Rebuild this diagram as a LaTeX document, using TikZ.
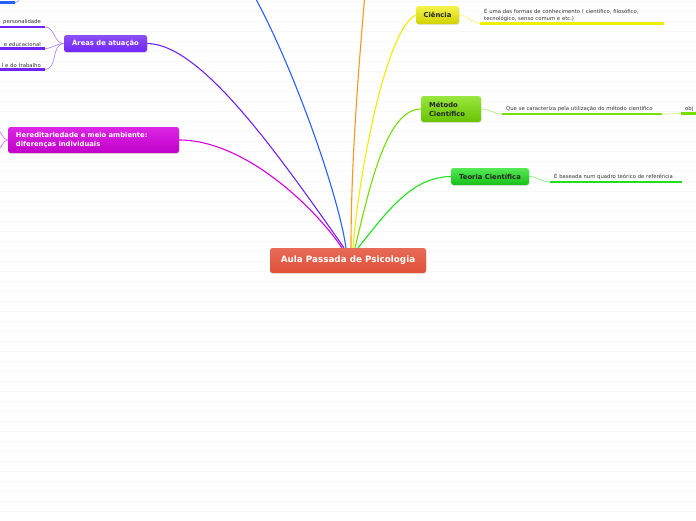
\documentclass[tikz,border=0pt]{standalone}
\usepackage{fontspec}
\setmainfont{DejaVu Sans}
\usetikzlibrary{positioning,shadows}
\definecolor{rootcolor}{RGB}{226,80,56}
\definecolor{areacolor}{RGB}{112,36,246}
\definecolor{herecolor}{RGB}{214,0,224}
\definecolor{cienciacolor}{RGB}{238,238,0}
\definecolor{metodocolor}{RGB}{118,222,0}
\definecolor{teoriacolor}{RGB}{28,226,28}
\definecolor{bluecolor}{RGB}{40,95,255}
\definecolor{orangecolor}{RGB}{255,150,30}
\definecolor{paperline}{RGB}{248,248,248}
\newcommand\rootfont{\fontsize{8.8}{10}\selectfont\bfseries}
\newcommand\topicfont{\fontsize{6.8}{9}\selectfont\bfseries}
\newcommand\notefont{\fontsize{5.3}{6.5}\selectfont}

\tikzset{
  topic/.style={rounded corners=2.5pt, inner sep=0pt, font=\topicfont, text=black!85,
    drop shadow={opacity=0.2, shadow xshift=0.6pt, shadow yshift=-0.9pt}},
  note/.style={font=\notefont, text=black!80, align=left, inner xsep=4pt,
    inner ysep=1.8pt, anchor=south west},
  branch/.style={line width=1.1pt},
  twig/.style={line width=0.7pt},
  underline/.style={line width=2.4pt}
}

\begin{document}
\begin{tikzpicture}[x=1pt,y=-1pt]
\useasboundingbox (0,0) rectangle (696,520);

% ruled paper
\foreach \y in {1,11,...,511}
  \draw[paperline, line width=0.8pt] (0,\y) -- (696,\y);

% central topic
\node[topic, top color=rootcolor!85!white, bottom color=rootcolor, text=white,
  font=\rootfont, minimum width=156pt, minimum height=25pt] (root) at (348,260.5)
  {Aula Passada de Psicologia};

% main topics
\node[topic, top color=areacolor!80!white, bottom color=areacolor, text=white,
  minimum width=83pt, minimum height=17pt] (areas) at (105.5,43.5) {Áreas de atuação};
\node[topic, top color=herecolor!85!white, bottom color=herecolor!90!black, text=white,
  align=left, text width=155pt, inner xsep=8pt, minimum height=26pt] (here) at (93.5,140)
  {Hereditariedade e meio ambiente:\\diferenças individuais};
\node[topic, top color=cienciacolor!70!white, bottom color=cienciacolor!88!black,
  minimum width=43pt, minimum height=18pt] (ciencia) at (437.5,15) {Ciência};
\node[topic, top color=metodocolor!75!white, bottom color=metodocolor!88!black,
  align=left, text width=44pt, inner xsep=8pt, minimum height=26pt] (metodo) at (451,109)
  {Método\\Científico};
\node[topic, top color=teoriacolor!75!white, bottom color=teoriacolor!85!black,
  minimum width=78pt, minimum height=17pt] (teoria) at (490,176.5) {Teoria Científica};

% branches leaving the page
\coordinate (bluetop) at (238,-30);
\coordinate (orangetop) at (367,-30);

% branches
\draw[branch, herecolor] ([xshift=-6pt]root.north) .. controls (315,208) and (245,140) .. (here.east);
\draw[branch, areacolor] ([xshift=-4pt]root.north) .. controls (274,148) and (200,44) .. (areas.east);
\draw[branch, bluecolor] ([xshift=-2pt]root.north) .. controls (336,180) and (275,20) .. (bluetop);
\draw[branch, orangecolor] ([xshift=3pt]root.north) .. controls (351,150) and (361,40) .. (orangetop);
\draw[branch, cienciacolor] ([xshift=5pt]root.north) .. controls (358,180) and (385,30) .. (ciencia.west);
\draw[branch, metodocolor] ([xshift=7pt]root.north) .. controls (368,195) and (385,109) .. (metodo.west);
\draw[branch, teoriacolor] ([xshift=10pt]root.north) .. controls (385,215) and (410,177) .. (teoria.west);

% Areas de atuacao
\node[note, anchor=south east, align=right, text width=42pt] (apers) at (45,27) {personalidade};
\node[note, anchor=south east, align=right, text width=42pt] (aeduc) at (45,48.5) {e educacional};
\node[note, anchor=south east, align=right, text width=42pt] (atrab) at (45,69.5) {l e do trabalho};
\foreach \n in {apers,aeduc,atrab} {
  \draw[twig, areacolor!55] (areas.west) to[out=180,in=0] (\n.south east);
  \draw[underline, areacolor] (\n.south west) -- (\n.south east);
}

% Hereditariedade
\coordinate (hereup) at (-3,131);
\coordinate (heredown) at (-3,149);
\draw[twig, herecolor!55] (here.west) to[out=180,in=0] (hereup);
\draw[twig, herecolor!55] (here.west) to[out=180,in=0] (heredown);

% blue branch, top left
\coordinate (blueA) at (-3,2.5);
\coordinate (blueB) at (15,2.5);
\coordinate (blueC) at (22,-6);
\draw[underline, bluecolor] (blueA) -- (blueB);
\draw[twig, bluecolor!55] (blueB) to[out=0,in=-120] (blueC);

% Ciencia
\node[note, text width=176pt] (cnote) at (480,23.5)
  {É uma das formas de conhecimento ( científico, filosófico,\\tecnológico, senso comum e etc.)};
\draw[twig, cienciacolor!55] (ciencia.east) to[out=0,in=180] (cnote.south west);
\draw[underline, cienciacolor] (cnote.south west) -- (cnote.south east);

% Metodo cientifico
\node[note, text width=152pt] (mnote) at (502,114)
  {Que se caracteriza pela utilização do método científico};
\node[note] (mobj) at (681,113.5) {obj};
\draw[twig, metodocolor!55] (metodo.east) to[out=0,in=180] (mnote.south west);
\draw[underline, metodocolor] (mnote.south west) -- (mnote.south east);
\draw[twig, metodocolor!40] (mnote.south east) to[out=0,in=180] (mobj.south west);
\draw[underline, metodocolor] (mobj.south west) -- ([xshift=6pt]mobj.south east);

% Teoria cientifica
\node[note, text width=124pt] (tnote) at (550,182)
  {É baseada num quadro teórico de referência};
\draw[twig, teoriacolor!55] (teoria.east) to[out=0,in=180] (tnote.south west);
\draw[underline, teoriacolor] (tnote.south west) -- (tnote.south east);

\end{tikzpicture}
\end{document}
